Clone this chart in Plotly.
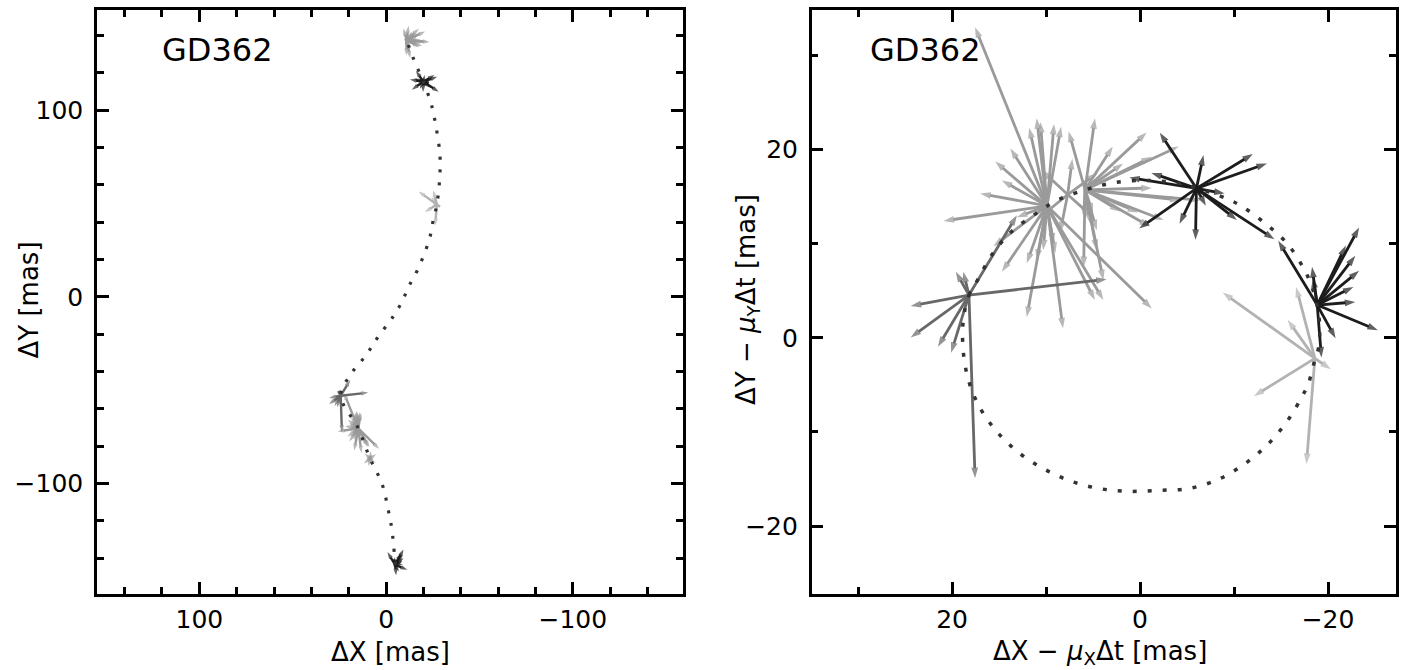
import plotly.graph_objects as go

# ---------------- data (mas) ----------------
group_names = ["G", "E", "F", "C", "D", "A", "B"]
group_colors = ["#9a9a9a", "#9a9a9a", "#9a9a9a", "#b2b2b2", "#686868", "#1c1c1c", "#1c1c1c"]

# epoch centres, right panel (proper motion removed)
centre_x_right = [7.7, 9.9, 5.85, -18.6, 18.2, -6.0, -18.85]
centre_y_right = [15.2, 14.0, 15.7, -2.19, 4.53, 15.86, 3.47]
# epoch centres, left panel (raw offsets)
centre_x_left = [8.6, 14.9, -11.0, -27.2, 24.3, -19.9, -4.9]
centre_y_left = [-86.6, -70.5, 137.5, 49.4, -53.0, 115.2, -143.6]

# individual measurements (arrow tips), right panel coordinates
G_end_x = [4.5, 10.5, 11.0, 5.0, 7.2, 8.5]
G_end_y = [17.5, 17.8, 12.5, 12.8, 19.0, 11.2]
E_end_x = [17.55, 11.0, 10.6, 9.15, 13.8, 15.4, 14.7, 17.0, 20.9, 15.6, 14.7, 12.05, 11.0,
           12.05, 8.2, 9.0, 3.9, -1.25, 13.1, 9.2, 10.3, 4.8, 11.8, 8.4]
E_end_y = [32.95, 23.3, 22.9, 22.7, 20.1, 18.7, 16.7, 15.3, 12.4, 9.7, 7.0, 7.9, 8.25,
           2.2, 1.0, 9.0, 4.0, 3.1, 12.8, 10.0, 9.3, 4.0, 22.3, 22.4]
F_end_x = [7.6, 4.8, 2.9, -0.7, -4.1, 4.6, 5.0, 2.1, -1.25, -2.5, 1.8, 6.0, -1.25, -1.06,
           -6.4, 4.6, 3.9, -4.3, 6.0, 5.3, 0.2]
F_end_y = [21.9, 23.3, 20.3, 21.8, 20.3, 11.4, 13.2, 13.4, 15.9, 12.5, 18.5, 12.8, 19.2, 11.8,
           14.6, 9.3, 6.1, 14.6, 7.5, 12.1, 13.3]
C_end_x = [-8.8, -16.6, -15.7, -20.3, -12.1, -17.7]
C_end_y = [4.8, 5.4, 1.9, -3.35, -6.2, -13.4]
D_end_x = [3.55, 24.4, 24.4, 21.5, 20.1, 17.55, 19.6, 18.8, 13.1]
D_end_y = [6.2, 3.37, 0.04, -0.96, -1.6, -14.9, 7.0, 7.0, 13.0]
A_end_x = [-2.1, -6.75, -12.0, -13.5, -9.0, -7.0, -10.3, -5.9, -4.2, 0.1, 1.15, -1.2, -14.3]
A_end_y = [21.76, 19.4, 19.5, 18.5, 15.3, 14.0, 12.5, 10.4, 12.1, 11.6, 17.0, 17.5, 10.45]
B_end_x = [-23.3, -21.9, -22.9, -23.3, -22.7, -22.9, -25.3, -20.8, -19.3, -18.3, -18.4, -14.7]
B_end_y = [11.7, 9.8, 8.7, 7.1, 5.4, 3.8, 0.8, -0.06, -2.1, 7.5, 6.4, 10.3]

ends_x = [G_end_x, E_end_x, F_end_x, C_end_x, D_end_x, A_end_x, B_end_x]
ends_y = [G_end_y, E_end_y, F_end_y, C_end_y, D_end_y, A_end_y, B_end_y]

# parallax ellipse (right panel)
ell_x = [18.8, 18.2, 17.3, 15.7, 13.8, 11.2, 8.8, 5.8, 2.85, -0.4, -3.4, -6.0, -9.15, -10.9,
         -13.4, -15.7, -17.4, -18.1, -18.7, -19.1, -19.0, -18.5, -17.9, -17.2, -15.9, -13.9,
         -11.4, -8.4, -5.2, -1.9, 1.26, 4.36, 7.43, 10.26, 12.9, 15.2, 17.0, 18.2, 18.8, 18.8]
ell_y = [1.9, 4.5, 6.1, 8.9, 11.15, 13.1, 14.6, 15.7, 16.45, 16.7, 16.5, 15.9, 14.8, 13.9,
         12.07, 9.95, 7.37, 5.9, 4.0, 1.5, -1.0, -2.7, -4.9, -6.3, -8.5, -11.0,
         -13.2, -15.0, -16.0, -16.2, -16.3, -16.0, -15.2, -13.9, -12.2, -10.0, -7.5, -4.67, -1.5, 1.9]

# parallax + proper motion path (left panel)
path_x = [-4.9, -3.2, -1.3, 2.2, 8.6, 14.9, 24.3, 19.0, 10.7, 4.7, -3.7, -8.5, -12.1, -16.9,
          -21.6, -24.0, -25.2, -27.2, -28.8, -28.8, -26.5, -24.0, -19.9, -14.5, -11.0]
path_y = [-143.6, -125.3, -114.9, -100.1, -86.6, -70.5, -53.0, -41.6, -31.3, -22.1, -10.7,
          -2.7, 5.4, 14.5, 26.0, 34.0, 40.9, 49.4, 65.0, 76.4, 92.4, 103.9, 115.2, 128.0, 137.5]

left_xticks = [100, 0, -100]
left_yticks = [-100, 0, 100]
right_xticks = [20, 0, -20]
right_yticks = [-20, 0, 20]

# ---------------- figure ----------------
FONT = "DejaVu Sans"
fig = go.Figure()


def arrow_trace(cx, cy, exs, eys, color, xa, ya, head, width):
    xs, ys, sizes = [], [], []
    for ex, ey in zip(exs, eys):
        xs += [cx, ex, None]
        ys += [cy, ey, None]
        sizes += [0, head, 0]
    return go.Scatter(
        x=xs, y=ys, xaxis=xa, yaxis=ya, mode="lines+markers",
        line=dict(color=color, width=width),
        marker=dict(symbol="arrow", angleref="previous", size=sizes, color=color,
                    line=dict(width=0)),
        hoverinfo="skip", showlegend=False, connectgaps=False)


for i in range(len(group_names)):
    # left panel: same residual offsets placed at the raw epoch position
    lx = [centre_x_left[i] + (e - centre_x_right[i]) for e in ends_x[i]]
    ly = [centre_y_left[i] + (e - centre_y_right[i]) for e in ends_y[i]]
    fig.add_trace(arrow_trace(centre_x_left[i], centre_y_left[i], lx, ly,
                              group_colors[i], "x", "y", 7, 2.4))
    fig.add_trace(arrow_trace(centre_x_right[i], centre_y_right[i], ends_x[i], ends_y[i],
                              group_colors[i], "x2", "y2", 11, 2.8))

fig.add_trace(go.Scatter(x=path_x, y=path_y, xaxis="x", yaxis="y", mode="lines",
                         line=dict(color="#333333", width=3.2, dash="3px,10px", shape="spline"),
                         hoverinfo="skip", showlegend=False))
fig.add_trace(go.Scatter(x=ell_x, y=ell_y, xaxis="x2", yaxis="y2", mode="lines",
                         line=dict(color="#333333", width=3.5, dash="4px,11px", shape="spline"),
                         hoverinfo="skip", showlegend=False))

W, H = 1403, 670
axis_common = dict(showline=True, linecolor="black", linewidth=2.5, mirror="ticks",
                   ticks="inside", ticklen=12, tickwidth=2.5, tickcolor="black",
                   showgrid=False, zeroline=False, automargin=False,
                   tickfont=dict(family=FONT, size=25, color="black"))
xminor = dict(ticklen=7, tickwidth=2.5, tickcolor="black", ticks="inside")

fig.update_layout(
    width=W, height=H, margin=dict(l=0, r=0, t=0, b=0),
    paper_bgcolor="white", plot_bgcolor="white", showlegend=False,
    xaxis=dict(axis_common, domain=[97 / W, 683 / W], range=[154.8, -159.0],
               tickvals=left_xticks, ticklabelstandoff=1,
               minor=dict(xminor, dtick=20), anchor="y"),
    yaxis=dict(axis_common, domain=[1 - 594 / H, 1 - 10 / H], range=[-159.2, 153.6],
               tickvals=left_yticks, ticklabelstandoff=6,
               minor=dict(xminor, dtick=20), anchor="x"),
    xaxis2=dict(axis_common, domain=[811.7 / W, 1396 / W], range=[34.93, -27.23],
                tickvals=right_xticks, ticklabelstandoff=1,
                minor=dict(xminor, dtick=10), anchor="y2"),
    yaxis2=dict(axis_common, domain=[1 - 594 / H, 1 - 10 / H], range=[-27.2, 34.79],
                tickvals=right_yticks, ticklabelstandoff=6,
                minor=dict(xminor, dtick=10), anchor="x2"),
)

title_font = dict(family=FONT, size=26, color="black")
# axis titles
fig.add_annotation(text="ΔX [mas]", xref="paper", yref="paper", x=390 / W, y=1 - 652 / H,
                   xanchor="center", yanchor="middle", showarrow=False, font=title_font)
fig.add_annotation(text="ΔX − <i>μ</i><sub>X</sub>Δt [mas]", xref="paper", yref="paper",
                   x=1100 / W, y=1 - 652 / H, xanchor="center", yanchor="middle",
                   showarrow=False, font=title_font)
fig.add_annotation(text="ΔY [mas]", xref="paper", yref="paper", x=28.5 / W, y=1 - 300 / H,
                   xanchor="center", yanchor="middle", textangle=-90, showarrow=False,
                   font=title_font)
fig.add_annotation(text="ΔY − <i>μ</i><sub>Y</sub>Δt [mas]", xref="paper", yref="paper",
                   x=747 / W, y=1 - 300 / H, xanchor="center", yanchor="middle",
                   textangle=-90, showarrow=False, font=title_font)

fig.add_annotation(text="GD362", xref="x domain", yref="y domain", x=0.107, y=0.931,
                   xanchor="left", yanchor="middle", showarrow=False,
                   font=dict(family=FONT, size=32, color="black"))
fig.add_annotation(text="GD362", xref="x2 domain", yref="y2 domain", x=0.096, y=0.931,
                   xanchor="left", yanchor="middle", showarrow=False,
                   font=dict(family=FONT, size=32, color="black"))

fig.write_html("out.html", config={"displayModeBar": False},
               post_script="document.body.style.margin='0';")
